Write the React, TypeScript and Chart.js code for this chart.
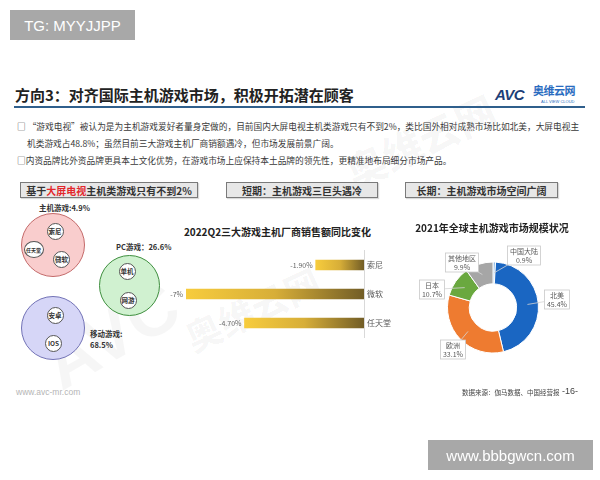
import React, { useEffect, useRef } from "react";
import { Chart, registerables } from "chart.js";

Chart.register(...registerables);

const FONT = '"Noto Sans CJK SC", "Noto Sans", sans-serif';

// ---- bar chart data ----
const vendors = ["索尼", "微软", "任天堂"];
const yoyChange = [-1.9, -7, -4.7];
const yoyLabels = ["-1.90%", "-7%", "-4.70%"];

// ---- doughnut data ----
const regions = ["中国大陆", "北美", "欧洲", "日本", "其他地区"];
const regionShares = [0.9, 45.4, 33.1, 10.7, 9.9];
const regionColors = ["#8fbbe6", "#1a66c2", "#ee7b30", "#6aa83f", "#a6a6a6"];

// ---- circle diagram data ----
const platformNames = ["主机游戏", "PC游戏", "移动游戏"];
const platformShares = ["4.9%", "26.6%", "68.5%"];
const consoleMembers = ["索尼", "任天堂", "微软"];
const pcMembers = ["单机", "网游"];
const mobileMembers = ["安卓", "IOS"];

// label box offsets (relative to doughnut centre) – layout, not data
const donutLabelLayout = [
  { dx: 31, dy: -52 },
  { dx: 64, dy: -8 },
  { dx: -40, dy: 42 },
  { dx: -61, dy: -18 },
  { dx: -31, dy: -45 },
];

const barValueLabelPlugin = {
  id: "barValueLabels",
  afterDatasetsDraw(chart: any) {
    const ctx = chart.ctx;
    const meta = chart.getDatasetMeta(0);
    ctx.save();
    ctx.font = `7px ${FONT}`;
    ctx.fillStyle = "#666";
    ctx.textAlign = "right";
    ctx.textBaseline = "middle";
    meta.data.forEach((bar: any, i: number) => {
      const { x, y } = bar.getProps(["x", "y"], true);
      ctx.fillText(yoyLabels[i], x - 3, y);
    });
    ctx.restore();
  },
};

const donutLabelPlugin = {
  id: "donutLabels",
  afterDatasetsDraw(chart: any) {
    const ctx = chart.ctx;
    const meta = chart.getDatasetMeta(0);
    ctx.save();
    ctx.font = `7px ${FONT}`;
    meta.data.forEach((arc: any, i: number) => {
      const { x, y, startAngle, endAngle, innerRadius, outerRadius } = arc.getProps(
        ["x", "y", "startAngle", "endAngle", "innerRadius", "outerRadius"],
        true
      );
      const mid = (startAngle + endAngle) / 2;
      const r = (innerRadius + outerRadius) / 2;
      const px = x + Math.cos(mid) * r;
      const py = y + Math.sin(mid) * r;
      const lay = donutLabelLayout[i];
      const bx = x + lay.dx;
      const by = y + lay.dy;
      const l1 = regions[i];
      const l2 = regionShares[i].toFixed(1) + "%";
      const w = Math.max(ctx.measureText(l1).width, ctx.measureText(l2).width) + 5;
      const h = 19;
      const vx = px - bx;
      const vy = py - by;
      const t = Math.min(w / 2 / Math.max(Math.abs(vx), 1e-6), h / 2 / Math.max(Math.abs(vy), 1e-6));
      ctx.strokeStyle = "#d4d4d4";
      ctx.lineWidth = 0.8;
      ctx.beginPath();
      ctx.moveTo(bx + vx * t, by + vy * t);
      ctx.lineTo(px, py);
      ctx.stroke();
      ctx.fillStyle = "#fff";
      ctx.fillRect(bx - w / 2, by - h / 2, w, h);
      ctx.strokeStyle = "#c9c9c9";
      ctx.lineWidth = 0.8;
      ctx.strokeRect(bx - w / 2, by - h / 2, w, h);
      ctx.fillStyle = "#595959";
      ctx.textAlign = "center";
      ctx.textBaseline = "middle";
      ctx.fillText(l1, bx, by - 4.5);
      ctx.fillText(l2, bx, by + 4.5);
    });
    ctx.restore();
  },
};

function Bubble(props: {
  cx: number;
  cy: number;
  r: number;
  fill: string;
  border: string;
  bw?: number;
}) {
  const { cx, cy, r, fill, border, bw = 1.2 } = props;
  return (
    <div
      style={{
        position: "absolute",
        left: cx - r,
        top: cy - r,
        width: r * 2,
        height: r * 2,
        borderRadius: "50%",
        background: fill,
        border: `${bw}px solid ${border}`,
        boxSizing: "border-box",
      }}
    />
  );
}

function Member(props: { cx: number; cy: number; label: string; small?: boolean }) {
  const { cx, cy, label, small } = props;
  const rx = small ? 10 : 8.5;
  const ry = 8.5;
  return (
    <div
      style={{
        position: "absolute",
        left: cx - rx,
        top: cy - ry,
        width: rx * 2,
        height: ry * 2,
        borderRadius: "50%",
        background: "#fff",
        border: "1px solid #555",
        boxSizing: "border-box",
        display: "flex",
        alignItems: "center",
        justifyContent: "center",
        fontSize: small ? 5 : 6.5,
        fontWeight: 700,
        color: "#333",
        whiteSpace: "nowrap",
        lineHeight: 1,
      }}
    >
      {label}
    </div>
  );
}

function TextAt(props: { x: number; y: number; children: any; style?: any }) {
  return (
    <div
      style={{
        position: "absolute",
        left: props.x,
        top: props.y,
        whiteSpace: "nowrap",
        lineHeight: 1,
        ...props.style,
      }}
    >
      {props.children}
    </div>
  );
}

const headerBox = (left: number, width: number) => ({
  position: "absolute" as const,
  left,
  top: 182,
  width,
  height: 16,
  background: "#e7e7e7",
  border: "1px solid #7a7a7a",
  boxSizing: "border-box" as const,
  display: "flex",
  alignItems: "center",
  justifyContent: "center",
  fontSize: 10,
  fontWeight: 700,
  color: "#333",
  whiteSpace: "nowrap" as const,
  boxShadow: "1px 1px 1px rgba(0,0,0,0.15)",
});

export default function App() {
  const barRef = useRef<HTMLCanvasElement>(null);
  const donutRef = useRef<HTMLCanvasElement>(null);

  useEffect(() => {
    const bar = new Chart(barRef.current as HTMLCanvasElement, {
      type: "bar",
      data: {
        labels: vendors,
        datasets: [
          {
            data: yoyChange,
            barThickness: 10,
            borderWidth: 0,
            backgroundColor: (c: any) => {
              const chart = c.chart;
              if (!chart.chartArea || !chart.scales.x) return "#d4aa38";
              const xs = chart.scales.x;
              const x0 = xs.getPixelForValue(c.raw);
              const x1 = xs.getPixelForValue(0);
              const g = chart.ctx.createLinearGradient(x0, 0, x1, 0);
              g.addColorStop(0, "#f7cc3d");
              g.addColorStop(0.5, "#d7ae38");
              g.addColorStop(1, "#725d26");
              return g;
            },
          },
        ],
      },
      options: {
        indexAxis: "y",
        responsive: false,
        animation: false,
        layout: { padding: { left: 36, right: 0, top: 10.5, bottom: 12.5 } },
        plugins: { legend: { display: false }, tooltip: { enabled: false } },
        scales: {
          x: { type: "linear", min: -7, max: 0, display: false },
          y: {
            position: "right",
            grid: { display: false, drawTicks: false },
            border: { display: true, color: "#d9d9d9", width: 1 },
            ticks: { font: { size: 8, family: FONT }, color: "#595959", padding: 3 },
            afterFit: (s: any) => {
              s.width = 46;
            },
          },
        },
      },
      plugins: [barValueLabelPlugin],
    } as any);

    const donut = new Chart(donutRef.current as HTMLCanvasElement, {
      type: "doughnut",
      data: {
        labels: regions,
        datasets: [
          {
            data: regionShares,
            backgroundColor: regionColors,
            borderColor: "#ffffff",
            borderWidth: 1,
          },
        ],
      },
      options: {
        responsive: false,
        animation: false,
        cutout: "52%",
        layout: { padding: { left: 47, right: 47, top: 29.5, bottom: 28.5 } },
        plugins: { legend: { display: false }, tooltip: { enabled: false } },
      },
      plugins: [donutLabelPlugin],
    } as any);

    return () => {
      bar.destroy();
      donut.destroy();
    };
  }, []);

  return (
    <div
      style={{
        position: "fixed",
        left: 0,
        top: 0,
        width: 600,
        height: 480,
        background: "#fff",
        overflow: "hidden",
        fontFamily: FONT,
        color: "#333",
      }}
    >
      {/* faint watermarks */}
      <TextAt x={40} y={300} style={{ fontSize: 70, fontWeight: 900, color: "rgba(0,0,0,0.035)", transform: "rotate(-30deg)", fontFamily: "Arial" }}>
        AVC
      </TextAt>
      <TextAt x={340} y={120} style={{ fontSize: 40, fontWeight: 900, color: "rgba(0,0,0,0.03)", transform: "rotate(-25deg)" }}>
        奥维云网
      </TextAt>
      <TextAt x={180} y={290} style={{ fontSize: 36, fontWeight: 900, color: "rgba(0,0,0,0.03)", transform: "rotate(-25deg)" }}>
        奥维云网
      </TextAt>

      {/* top badge */}
      <div
        style={{
          position: "absolute",
          left: 10,
          top: 10,
          width: 125,
          height: 30,
          background: "#a8a8a8",
          color: "#fff",
          fontFamily: "Arial, 'Liberation Sans', sans-serif",
          fontSize: 15,
          display: "flex",
          alignItems: "center",
          justifyContent: "center",
        }}
      >
        TG: MYYJJPP
      </div>

      {/* title */}
      <TextAt x={15} y={87} style={{ fontSize: 15, fontWeight: 700, color: "#222" }}>
        方向3：对齐国际主机游戏市场，积极开拓潜在顾客
      </TextAt>
      {/* logo */}
      <TextAt x={495} y={87} style={{ fontFamily: "Arial, 'Liberation Sans'", fontSize: 15, fontWeight: 900, fontStyle: "italic", color: "#1d3f78", letterSpacing: -0.5 }}>
        AVC
      </TextAt>
      <TextAt x={533} y={85} style={{ fontSize: 11, fontWeight: 700, color: "#2a6cc0", letterSpacing: -0.5 }}>
        奥维云网
      </TextAt>
      <TextAt x={541} y={100} style={{ fontSize: 4, color: "#2a6cc0", fontFamily: "Arial" }}>
        ALL VIEW CLOUD
      </TextAt>
      <div style={{ position: "absolute", left: 14, top: 106, width: 571, height: 2, background: "#2f5f8c" }} />

      {/* bullet text */}
      <TextAt x={17} y={123} style={{ fontSize: 8.7, color: "#3a3a3a" }}>
        □ “游戏电视”被认为是为主机游戏爱好者量身定做的，目前国内大屏电视主机类游戏只有不到2%，类比国外相对成熟市场比如北美，大屏电视主
      </TextAt>
      <TextAt x={27} y={140} style={{ fontSize: 8.7, color: "#3a3a3a" }}>
        机类游戏占48.8%；虽然目前三大游戏主机厂商销额遇冷，但市场发展前景广阔。
      </TextAt>
      <TextAt x={17} y={157} style={{ fontSize: 8.7, color: "#3a3a3a" }}>
        □内资品牌比外资品牌更具本土文化优势，在游戏市场上应保持本土品牌的领先性，更精准地布局细分市场产品。
      </TextAt>

      {/* header boxes */}
      <div style={headerBox(20, 178)}>
        基于<span style={{ color: "#e3262b" }}>大屏电视</span>主机类游戏只有不到2%
      </div>
      <div style={headerBox(226, 152)}>短期：主机游戏三巨头遇冷</div>
      <div style={headerBox(405, 153)}>长期：主机游戏市场空间广阔</div>

      {/* circle diagram */}
      <TextAt x={39} y={204} style={{ fontSize: 7.5, fontWeight: 700 }}>
        {platformNames[0]}:{platformShares[0]}
      </TextAt>
      <Bubble cx={52.5} cy={245} r={32} fill="#f9cdcd" border="#c46a6a" />
      <Member cx={55} cy={231} label={consoleMembers[0]} />
      <Member cx={33.5} cy={249} label={consoleMembers[1]} small />
      <Member cx={61.5} cy={259} label={consoleMembers[2]} />

      <TextAt x={116} y={243} style={{ fontSize: 7.5, fontWeight: 700 }}>
        {platformNames[1]}：{platformShares[1]}
      </TextAt>
      <Bubble cx={129} cy={285} r={30.5} fill="#d0f1d0" border="#3f8f3f" />
      <Member cx={127} cy={271} label={pcMembers[0]} />
      <Member cx={128} cy={300} label={pcMembers[1]} />

      <Bubble cx={53} cy={327.5} r={32} fill="#d6d6f7" border="#7272b6" />
      <Member cx={55} cy={315} label={mobileMembers[0]} />
      <Member cx={53.5} cy={343} label={mobileMembers[1]} />
      <TextAt x={90} y={330} style={{ fontSize: 7.5, fontWeight: 700 }}>
        {platformNames[2]}:
      </TextAt>
      <TextAt x={90} y={341} style={{ fontSize: 7.5, fontWeight: 700 }}>
        {platformShares[2]}
      </TextAt>

      {/* bar chart */}
      <TextAt x={277.5} y={227} style={{ fontSize: 10, fontWeight: 700, color: "#222", transform: "translateX(-50%)" }}>
        2022Q2三大游戏主机厂商销售额同比变化
      </TextAt>
      <canvas
        ref={barRef}
        width={260}
        height={110}
        style={{ position: "absolute", left: 150, top: 240, width: 260, height: 110 }}
      />

      {/* doughnut */}
      <canvas
        ref={donutRef}
        width={186}
        height={150}
        style={{ position: "absolute", left: 400, top: 232, width: 186, height: 150 }}
      />
      <TextAt x={492} y={223} style={{ fontSize: 10, fontWeight: 700, color: "#222", transform: "translateX(-50%)" }}>
        2021年全球主机游戏市场规模状况
      </TextAt>

      {/* footer */}
      <TextAt x={16} y={388} style={{ fontSize: 8.5, color: "#b5b5b5", fontFamily: "Arial, 'Liberation Sans'" }}>
        www.avc-mr.com
      </TextAt>
      <TextAt x={462} y={389} style={{ fontSize: 6.5, color: "#444" }}>
        数据来源：伽马数据、中国经营报
      </TextAt>
      <TextAt x={562} y={387} style={{ fontSize: 9, color: "#444", fontFamily: "Arial, 'Liberation Sans'" }}>
        -16-
      </TextAt>

      {/* bottom badge */}
      <div
        style={{
          position: "absolute",
          left: 428,
          top: 440,
          width: 165,
          height: 30,
          background: "#a8a8a8",
          color: "#fff",
          fontFamily: "Arial, 'Liberation Sans', sans-serif",
          fontSize: 15,
          display: "flex",
          alignItems: "center",
          justifyContent: "center",
        }}
      >
        www.bbbgwcn.com
      </div>
    </div>
  );
}
